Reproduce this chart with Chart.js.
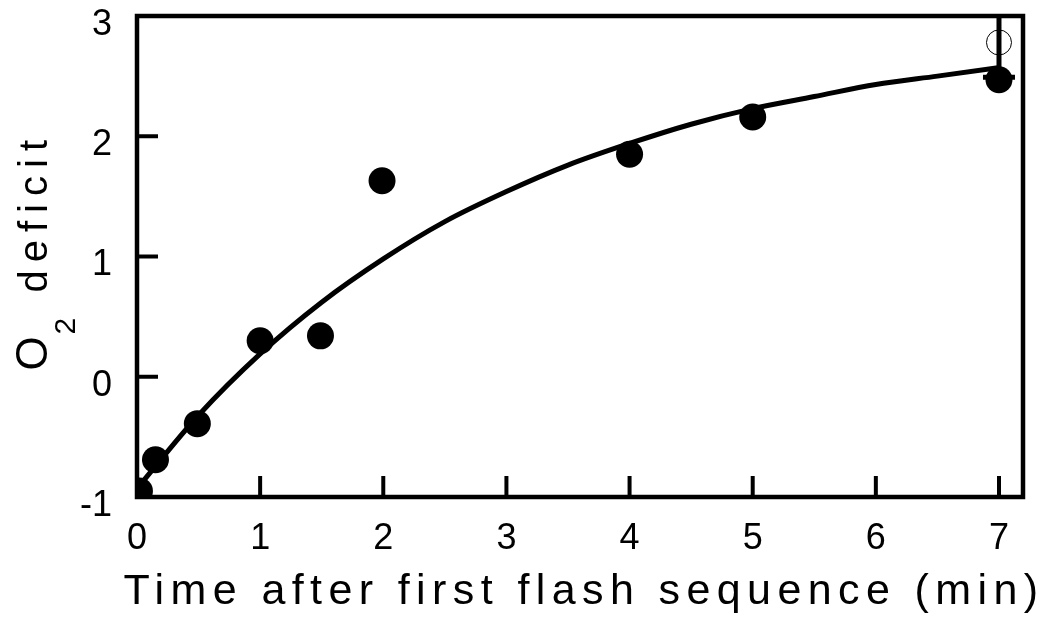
<!DOCTYPE html>
<html>
<head>
<meta charset="utf-8">
<script src="https://cdn.jsdelivr.net/npm/chart.js@4/dist/chart.umd.min.js"></script>
<style>
html, body { margin: 0; padding: 0; background: #fff; }
</style>
</head>
<body>
<canvas id="myChart" width="1044" height="621"></canvas>
<script>
// measured O2 deficit after the first flash sequence
const timeMin = [0.02, 0.15, 0.49, 1, 1.49, 1.99, 4, 5, 7];
const deficit = [-0.95, -0.69, -0.39, 0.30, 0.34, 1.63, 1.85, 2.16, 2.47];

// open circle at 7 min
const openTime = [7];
const openDeficit = [2.78];

// error bar at 7 min (top runs past the frame)
const errTime = [7];
const errLow = [2.49];
const errHigh = [3.4];

// fitted curve
const curveTime = [0, 0.5, 1, 1.5, 2, 2.5, 3, 3.5, 4, 4.5, 5, 5.5, 6, 6.5, 7];
const curveDeficit = [-0.93, -0.32, 0.19, 0.62, 0.98, 1.29, 1.54, 1.76, 1.94, 2.10, 2.23, 2.33, 2.43, 2.50, 2.57];

const xTicks = [0, 1, 2, 3, 4, 5, 6, 7];
const yTicks = [-1, 0, 1, 2, 3];

const xTitle = "Time after first flash sequence (min)";
const yTitle = ["O", "2", "deficit"];

const fontFam = '"Liberation Sans", Arial, sans-serif';

function pts(xs, ys) {
    return xs.map((x, i) => ({ x: x, y: ys[i] }));
}

function noPad(s) {
    s.paddingTop = 0;
    s.paddingBottom = 0;
    s.paddingLeft = 0;
    s.paddingRight = 0;
}

const framePlugin = {
    id: 'frame',
    afterDatasetsDraw(chart) {
        const ctx = chart.ctx;
        const a = chart.chartArea;
        const xs = chart.scales.x, ys = chart.scales.y;
        ctx.save();
        ctx.beginPath();
        ctx.rect(a.left, a.top, a.right - a.left, a.bottom - a.top);
        ctx.clip();
        ctx.strokeStyle = '#000';
        ctx.lineWidth = 5;
        for (let i = 0; i < errTime.length; i++) {
            const px = xs.getPixelForValue(errTime[i]);
            const lo = ys.getPixelForValue(errLow[i]);
            const hi = ys.getPixelForValue(errHigh[i]);
            ctx.beginPath();
            ctx.moveTo(px, lo);
            ctx.lineTo(px, hi);
            ctx.stroke();
            ctx.beginPath();
            ctx.moveTo(px - 16, lo);
            ctx.lineTo(px + 16, lo);
            ctx.stroke();
        }
        ctx.restore();
    },
    afterDraw(chart) {
        const ctx = chart.ctx;
        const a = chart.chartArea;
        const xs = chart.scales.x, ys = chart.scales.y;
        ctx.save();
        ctx.strokeStyle = '#000';
        ctx.lineWidth = 4.5;
        ctx.strokeRect(a.left, a.top, a.right - a.left, a.bottom - a.top);

        // inward tick marks
        ctx.lineWidth = 4;
        xTicks.forEach(v => {
            if (v === xs.min) return;
            const px = xs.getPixelForValue(v);
            ctx.beginPath();
            ctx.moveTo(px, a.bottom);
            ctx.lineTo(px, a.bottom - 21);
            ctx.stroke();
        });
        yTicks.forEach(v => {
            if (v === ys.min || v === ys.max) return;
            const py = ys.getPixelForValue(v);
            ctx.beginPath();
            ctx.moveTo(a.left, py);
            ctx.lineTo(a.left + 21, py);
            ctx.stroke();
        });

        // x title
        ctx.fillStyle = '#000';
        ctx.font = '43px ' + fontFam;
        ctx.letterSpacing = '6.4px';
        ctx.textAlign = 'center';
        ctx.textBaseline = 'alphabetic';
        ctx.fillText(xTitle, (a.left + a.right) / 2 + 4, 604);

        // y title, rotated, with subscript
        const cy = (a.top + a.bottom) / 2;
        ctx.translate(47, cy);
        ctx.rotate(-Math.PI / 2);
        ctx.textAlign = 'left';
        ctx.letterSpacing = '0px';
        ctx.font = '44px ' + fontFam;
        ctx.fillText(yTitle[0], -114, 0);
        ctx.font = '30px ' + fontFam;
        ctx.fillText(yTitle[1], -78, 28);
        ctx.font = '40px ' + fontFam;
        ctx.letterSpacing = '8px';
        ctx.fillText(yTitle[2], -36, 0);
        ctx.restore();
    }
};

new Chart('myChart', {
    type: 'scatter',
    data: {
        datasets: [
            {
                label: 'fit',
                type: 'line',
                data: pts(curveTime, curveDeficit),
                borderColor: '#000',
                borderWidth: 5,
                pointRadius: 0,
                cubicInterpolationMode: 'monotone',
                fill: false
            },
            {
                label: 'measured',
                data: pts(timeMin, deficit),
                pointRadius: 13.5,
                backgroundColor: '#000',
                borderColor: '#000',
                borderWidth: 0
            },
            {
                label: 'open',
                data: pts(openTime, openDeficit),
                pointRadius: 12.5,
                backgroundColor: 'rgba(0,0,0,0)',
                borderColor: '#000',
                borderWidth: 1
            }
        ]
    },
    options: {
        responsive: false,
        animation: false,
        layout: { autoPadding: false, padding: { top: 16, right: 21, left: 0, bottom: 0 } },
        plugins: {
            legend: { display: false },
            tooltip: { enabled: false }
        },
        scales: {
            x: {
                type: 'linear',
                min: 0,
                max: 7.195,
                afterFit: s => { s.height = 124; noPad(s); },
                afterBuildTicks: s => { s.ticks = xTicks.map(v => ({ value: v })); },
                grid: { display: false, drawTicks: false },
                border: { display: false },
                ticks: {
                    color: '#000',
                    padding: 20,
                    font: { size: 36, family: fontFam }
                }
            },
            y: {
                min: -1,
                max: 3,
                afterFit: s => { s.width = 137; noPad(s); },
                afterBuildTicks: s => { s.ticks = yTicks.map(v => ({ value: v })); },
                grid: { display: false, drawTicks: false },
                border: { display: false },
                ticks: {
                    color: '#000',
                    padding: 25,
                    labelOffset: 9,
                    font: { size: 36, family: fontFam }
                }
            }
        }
    },
    plugins: [framePlugin]
});
</script>
</body>
</html>
